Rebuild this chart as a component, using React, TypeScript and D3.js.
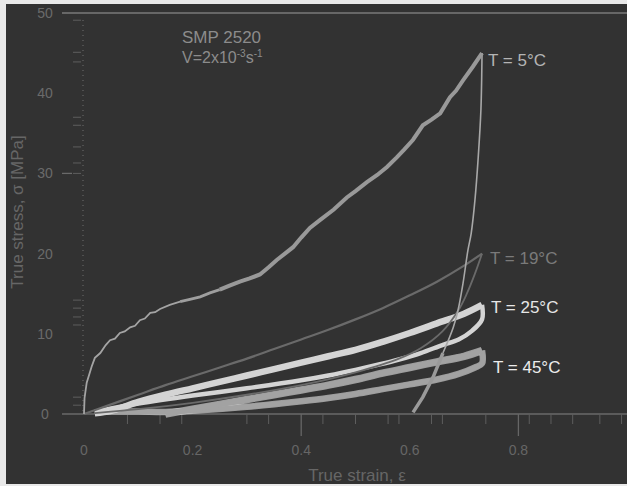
import React from "react";
import * as d3 from "d3";

// ---------- data ----------
type P = [number, number];

const load5: P[] = [
  [0, 0], [0.001, 2.0], [0.005, 3.9], [0.014, 5.9], [0.02, 7.0], [0.03, 7.6], [0.04, 8.6],
  [0.048, 9.2], [0.057, 9.4], [0.066, 10.1], [0.075, 10.3], [0.085, 10.8], [0.094, 11.0],
  [0.103, 11.7], [0.112, 11.9], [0.122, 12.6], [0.131, 12.7], [0.14, 13.1], [0.158, 13.6],
  [0.177, 14.0], [0.195, 14.3], [0.214, 14.6], [0.232, 15.1], [0.25, 15.5], [0.268, 16.0],
  [0.287, 16.5], [0.305, 16.9], [0.324, 17.4], [0.34, 18.3], [0.355, 19.2], [0.37, 20.0],
  [0.385, 20.8], [0.40, 22.0], [0.416, 23.2], [0.435, 24.2], [0.46, 25.5], [0.484, 27.0],
  [0.50, 27.8], [0.521, 28.9], [0.54, 29.8], [0.558, 30.8], [0.576, 32.0], [0.59, 33.0],
  [0.606, 34.2], [0.624, 36.0], [0.64, 36.7], [0.656, 37.5], [0.674, 39.5], [0.685, 40.3],
  [0.698, 41.6], [0.716, 43.3], [0.733, 45.0]
];
const unload5: P[] = [
  [0.733, 45.0], [0.731, 38.0], [0.726, 32.0], [0.72, 26.7], [0.713, 22.5], [0.707, 20.4],
  [0.698, 16.3], [0.689, 13.0], [0.68, 10.8], [0.661, 7.6], [0.643, 4.6], [0.624, 2.1], [0.606, 0.2]
];

const load19: P[] = [
  [0, 0], [0.05, 1.2], [0.1, 2.4], [0.15, 3.6], [0.2, 4.7], [0.25, 5.8], [0.3, 6.9],
  [0.35, 8.1], [0.4, 9.3], [0.45, 10.5], [0.5, 11.8], [0.55, 13.2], [0.6, 14.8],
  [0.65, 16.5], [0.7, 18.5], [0.733, 20.0]
];
const unload19: P[] = [
  [0.733, 20.0], [0.72, 17.5], [0.705, 15.0], [0.69, 13.0], [0.66, 10.3], [0.62, 8.2],
  [0.58, 6.9], [0.5, 5.2], [0.4, 3.6], [0.3, 2.4], [0.2, 1.4], [0.1, 0.6], [0.02, 0.1]
];

const load25: P[] = [
  [0.02, 0.1], [0.05, 0.4], [0.1, 1.5], [0.15, 2.4], [0.2, 3.2], [0.25, 4.0], [0.3, 4.8],
  [0.35, 5.6], [0.4, 6.4], [0.45, 7.2], [0.5, 8.0], [0.55, 9.0], [0.6, 10.1], [0.65, 11.3],
  [0.7, 12.5], [0.733, 13.6]
];
const unload25: P[] = [
  [0.733, 13.6], [0.733, 11.8], [0.715, 10.4], [0.69, 9.3], [0.66, 8.6], [0.62, 7.6],
  [0.58, 6.8], [0.545, 6.2], [0.5, 5.5], [0.45, 4.8], [0.4, 4.2], [0.3, 3.2], [0.2, 2.3],
  [0.1, 1.3], [0.05, 0.7], [0.02, 0.3]
];

const load45: P[] = [
  [0.15, 0.0], [0.2, 0.6], [0.25, 1.2], [0.3, 1.8], [0.35, 2.4], [0.4, 3.0], [0.45, 3.6],
  [0.5, 4.3], [0.55, 5.1], [0.6, 5.8], [0.65, 6.5], [0.7, 7.2], [0.733, 7.9]
];
const unload45: P[] = [
  [0.733, 7.9], [0.733, 6.3], [0.72, 5.8], [0.69, 5.0], [0.65, 4.3], [0.6, 3.7], [0.55, 3.1],
  [0.5, 2.5], [0.45, 2.0], [0.4, 1.6], [0.3, 0.9], [0.2, 0.4], [0.15, 0.25], [0.1, 0.3],
  [0.05, 0.3], [0.02, 0.2]
];

const yTicks = [0, 10, 20, 30, 40, 50];
const xTicks = [0, 0.2, 0.4, 0.6, 0.8];
const xTickLabels = ["0", "0.2", "0.4", "0.6", "0.8"];
const xMinorTicks = [0.08, 0.14, 0.18, 0.3, 0.34, 0.44, 0.5, 0.56, 0.58, 0.64, 0.66, 0.74, 0.82, 0.86, 0.9, 0.95, 0.99];
const xMajorTicks = [0.4, 0.8];
const yMinorTicks = [49.1, 45.1, 43.9, 37, 36, 33.3, 31.3, 30, 14.2, 13.2, 12.1, 11.1, 2.1, 1.1];

const curveLabels = ["T = 5°C", "T = 19°C", "T = 25°C", "T = 45°C"];
const curveLabelStress = [44.2, 19.4, 13.3, 5.8];

// ---------- chart ----------
const W = 627;
const H = 486;
const FONT = "'Liberation Sans', Arial, sans-serif";

export default function App() {
  const x = d3.scaleLinear().domain([0, 1]).range([84, 627]);
  const y = d3.scaleLinear().domain([0, 50]).range([414, 13]);

  const lin = d3.line<P>().x(d => x(d[0])).y(d => y(d[1]));
  const smooth = d3.line<P>().x(d => x(d[0])).y(d => y(d[1])).curve(d3.curveCatmullRom.alpha(0.5));

  const load5a = load5.slice(0, 20);
  const load5b = load5.slice(19, 24);
  const load5c = load5.slice(23);

  const labelX = [488, 490, 491, 493];
  const labelColor = ["#b4b4b4", "#7a7a7a", "#e6e6e6", "#ececec"];

  return (
    <svg width={W} height={H} style={{ position: "absolute", left: 0, top: 0 }} fontFamily={FONT}>
      <rect x={0} y={0} width={W} height={H} fill="#e9e9e9" />
      <rect x={6} y={4} width={W - 6} height={480} fill="#323232" />

      {/* top frame line */}
      <line x1={62} x2={W} y1={y(50)} y2={y(50)} stroke="#7a7a7a" strokeWidth={1.5} />
      {/* x axis */}
      <line x1={62} x2={W} y1={y(0)} y2={y(0)} stroke="#6a6a6a" strokeWidth={1.5} />
      {/* y axis dotted */}
      <line x1={x(0) - 1} x2={x(0) - 1} y1={20} y2={y(0)} stroke="#6e6e6e" strokeWidth={1} strokeDasharray="1,4" />
      <line x1={62} x2={72} y1={y(30)} y2={y(30)} stroke="#6a6a6a" strokeWidth={1.3} />
      {yMinorTicks.map((v, i) => (
        <line key={"ym" + i} x1={73} x2={81} y1={y(v)} y2={y(v)} stroke="#5e5e5e" strokeWidth={1} />
      ))}
      {xMinorTicks.map((v, i) => (
        <line key={"xm" + i} x1={x(v)} x2={x(v)} y1={y(0)} y2={y(0) + 10} stroke="#5e5e5e" strokeWidth={1} />
      ))}
      {xMajorTicks.map((v, i) => (
        <line key={"xM" + i} x1={x(v)} x2={x(v)} y1={y(0)} y2={y(0) + 22} stroke="#666" strokeWidth={1.3} />
      ))}

      {/* tick labels */}
      {yTicks.map(v => (
        <text key={"yt" + v} x={45} y={y(v) + 5} fontSize={14} fill="#6a6a6a" textAnchor="middle">{v}</text>
      ))}
      {xTicks.map((v, i) => (
        <text key={"xt" + i} x={x(v)} y={455} fontSize={14} fill="#666" textAnchor="middle">{xTickLabels[i]}</text>
      ))}

      {/* axis titles */}
      <text x={357} y={481} fontSize={17} fill="#666" textAnchor="middle">True strain, ε</text>
      <text transform="translate(23,212) rotate(-90)" fontSize={17} fill="#666" textAnchor="middle">True stress, σ [MPa]</text>

      {/* annotation */}
      <text x={182} y={43} fontSize={17} fill="#8c8c8c">SMP 2520</text>
      <text x={182} y={63} fontSize={16} fill="#8c8c8c">
        V=2x10<tspan dy={-6} fontSize={10}>-3</tspan><tspan dy={6}>s</tspan><tspan dy={-6} fontSize={10}>-1</tspan>
      </text>

      {/* 45 C loop */}
      <path d={smooth(unload45) || ""} fill="none" stroke="#f2f2f2" strokeWidth={6.5} strokeOpacity={0.55} />
      <path d={smooth(load45) || ""} fill="none" stroke="#f2f2f2" strokeWidth={7.5} strokeOpacity={0.55} />
      <path d={smooth(unload45) || ""} fill="none" stroke="#a2a2a2" strokeWidth={5} />
      <path d={smooth(load45) || ""} fill="none" stroke="#a2a2a2" strokeWidth={6} />

      {/* 25 C loop */}
      <path d={smooth(unload25) || ""} fill="none" stroke="#d4d4d4" strokeWidth={4.5} />
      <path d={smooth(load25) || ""} fill="none" stroke="#d4d4d4" strokeWidth={6.5} />

      {/* 19 C */}
      <path d={smooth(unload19) || ""} fill="none" stroke="#6a6a6a" strokeWidth={1.8} />
      <path d={smooth(load19) || ""} fill="none" stroke="#6a6a6a" strokeWidth={2.2} />

      {/* 5 C */}
      <path d={smooth(unload5.slice(0, 10)) || ""} fill="none" stroke="#a8a8a8" strokeWidth={1.6} />
      <path d={lin(unload5.slice(9)) || ""} fill="none" stroke="#9a9a9a" strokeWidth={3.5} />
      <path d={lin(load5a) || ""} fill="none" stroke="#a4a4a4" strokeWidth={1.8} />
      <path d={lin(load5b) || ""} fill="none" stroke="#9e9e9e" strokeWidth={2.8} />
      <path d={lin(load5c) || ""} fill="none" stroke="#999" strokeWidth={4} />

      {/* curve labels */}
      {curveLabels.map((t, i) => (
        <text key={t} x={labelX[i]} y={y(curveLabelStress[i]) + 6} fontSize={17} fill={labelColor[i]}>{t}</text>
      ))}
    </svg>
  );
}
